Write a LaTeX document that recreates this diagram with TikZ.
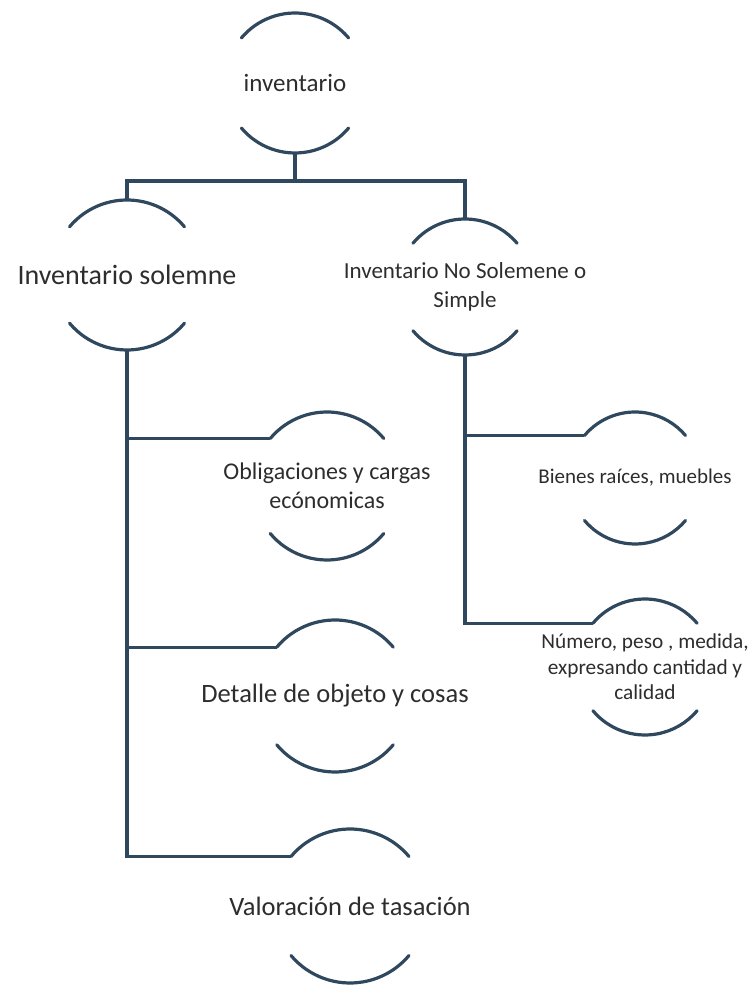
\documentclass[tikz,border=0pt]{standalone}
\usepackage{fontspec}
\setmainfont{Carlito}
\usepackage{xcolor}
\usepackage{tikz}

\definecolor{linecol}{RGB}{48,72,94}
\definecolor{textcol}{RGB}{45,45,45}

\tikzset{
  arcline/.style={linecol, line width=3.2pt, line cap=round},
  conn/.style={linecol, line width=3.2pt, line join=miter},
  txt/.style={text=textcol, align=center, inner sep=0pt},
}

% two arcs above and below a node, plus named points on them
\newcommand{\bracearcs}[2]{%
  \draw[arcline] ([shift={(140:#2)}]#1.center) arc[start angle=140,end angle=40,radius=#2];
  \draw[arcline] ([shift={(-140:#2)}]#1.center) arc[start angle=-140,end angle=-40,radius=#2];
  \coordinate (#1-top) at ([yshift=#2pt]#1.center);
  \coordinate (#1-bot) at ([yshift=-#2pt]#1.center);
  \coordinate (#1-in) at ([shift={(140:#2)}]#1.center);
}

\begin{document}
\begin{tikzpicture}[x=1pt,y=1pt]
\useasboundingbox (0,0) rectangle (752,987);
% root
\node[txt,font=\fontsize{25}{30}\selectfont] (inv) at (295,904) {inventario};
\bracearcs{inv}{70}
% two kinds
\node[txt,font=\fontsize{28}{34}\selectfont] (sol) at (127,712) {Inventario solemne};
\bracearcs{sol}{75}
\node[txt,font=\fontsize{23}{29}\selectfont] (nos) at (465,700) {Inventario No Solemene o\\Simple};
\bracearcs{nos}{68}
% solemne items
\node[txt,font=\fontsize{24}{29}\selectfont] (obl) at (327,501) {Obligaciones y cargas\\ecónomicas};
\bracearcs{obl}{74}
\node[txt,font=\fontsize{26.5}{32}\selectfont] (det) at (335,291) {Detalle de objeto y cosas};
\bracearcs{det}{76}
\node[txt,font=\fontsize{26.5}{32}\selectfont] (val) at (350,81) {Valoración de tasación};
\bracearcs{val}{77}
% simple items
\node[txt,font=\fontsize{21}{25}\selectfont] (bie) at (635,509) {Bienes raíces, muebles};
\bracearcs{bie}{66}
\node[txt,font=\fontsize{21.3}{25.5}\selectfont] (num) at (645,320) {Número, peso , medida,\\expresando cantidad y\\calidad};
\bracearcs{num}{68}
% connectors
\coordinate (bus) at (295,806);
\draw[conn] (inv-bot) -- (bus);
\draw[conn] (sol-top) |- (bus) -| (nos-top);
\draw[conn] (sol-bot) |- (val-in);
\draw[conn] (sol-bot |- obl-in) -- (obl-in);
\draw[conn] (sol-bot |- det-in) -- (det-in);
\draw[conn] (nos-bot) |- (num-in);
\draw[conn] (nos-bot |- bie-in) -- (bie-in);
\end{tikzpicture}
\end{document}
